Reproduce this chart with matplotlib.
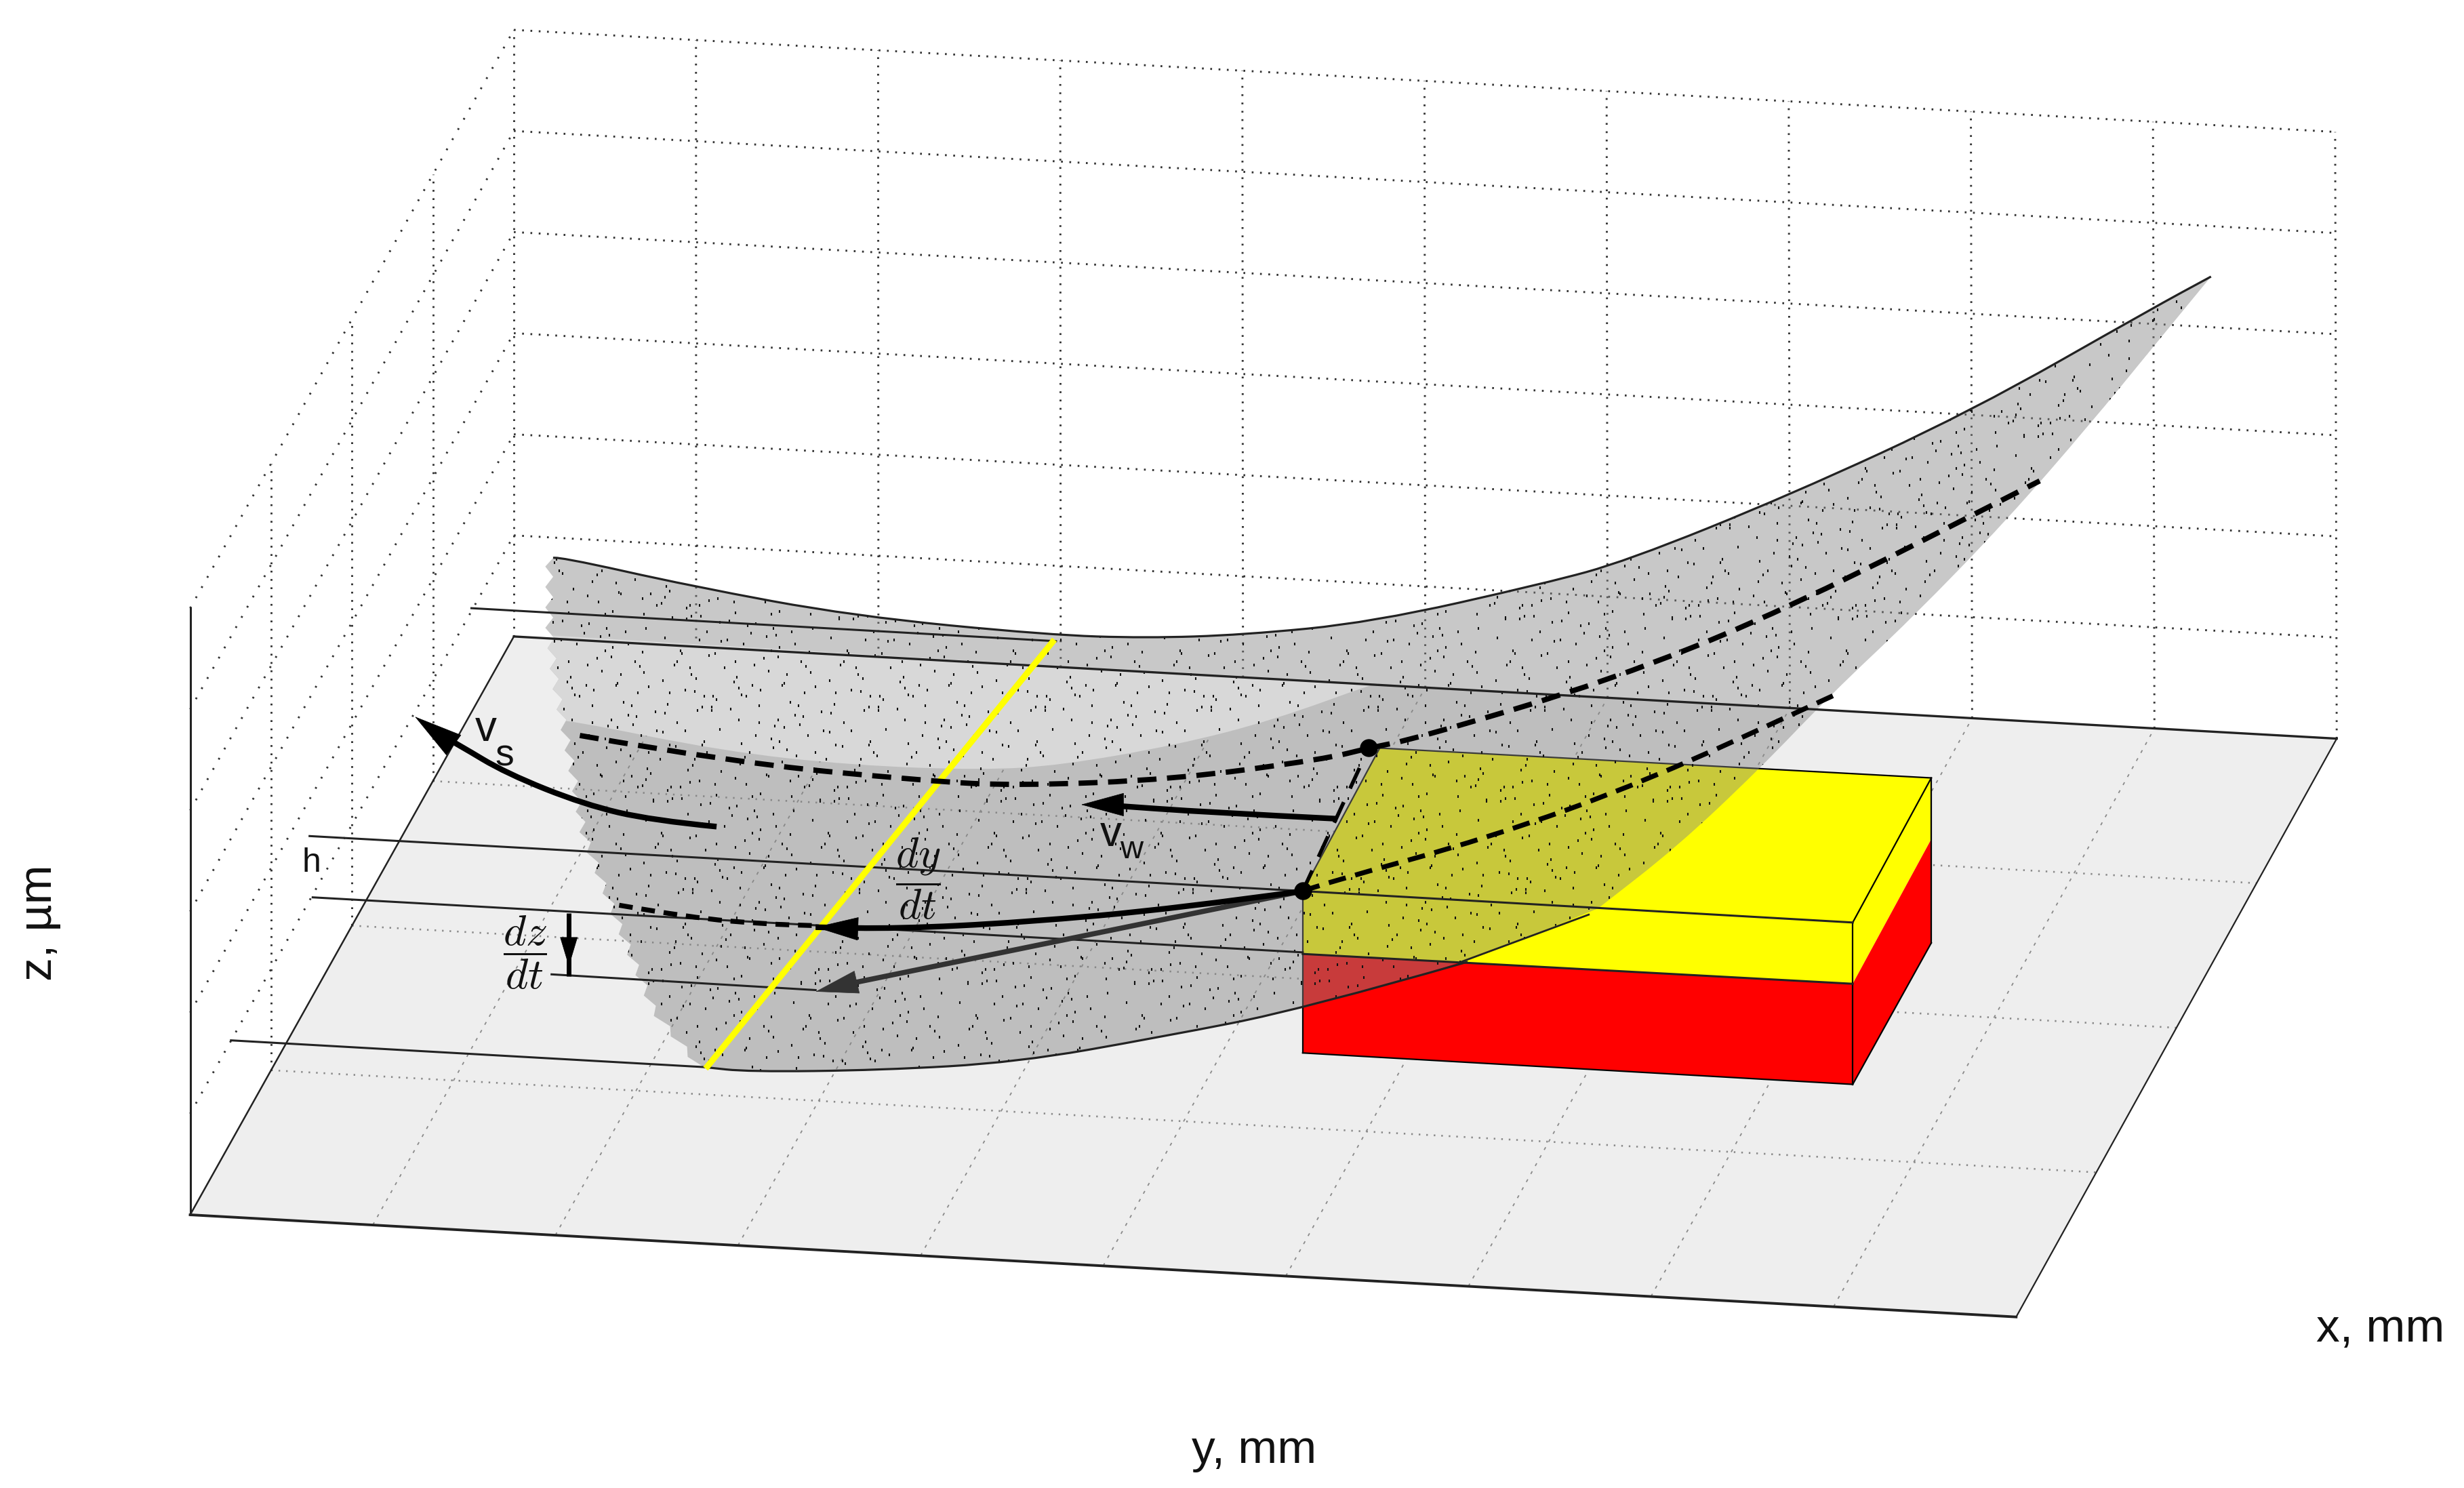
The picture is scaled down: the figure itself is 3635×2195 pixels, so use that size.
import matplotlib
matplotlib.use("Agg")
import matplotlib.pyplot as plt
from matplotlib.path import Path
from matplotlib.patches import PathPatch, Polygon
import numpy as np

plt.rcParams['font.family'] = ['Liberation Sans', 'DejaVu Sans']
plt.rcParams['mathtext.fontset'] = 'cm'

# all positions, in 1568 wide picture units
floor_x = [121, 1283, 1487, 327]
floor_y = [773, 838, 470, 405]
wall_top_left = (121, 387)
wall_top_back = (327, 19)
wall_top_right = (1486, 84)

# surface outline, split in its four edges
top_x = [352, 355, 440, 543, 667, 729, 791, 873, 984, 1035, 1139, 1254, 1370, 1407]
top_y = [355, 354, 373, 392, 404, 406, 404, 396, 371, 357, 315, 262, 196, 176]
right_x = [1407, 1370, 1330, 1277, 1217, 1166, 1119, 1067, 1017]
right_y = [176, 221, 270, 331, 393, 441, 490, 539, 578]
bottom_x = [1017, 934, 830, 738, 647, 560, 476, 448]
bottom_y = [578, 612, 642, 660, 676, 681, 682, 679]
left_x = [448, 419, 394, 374, 364, 356, 352, 352]
left_y = [679, 644, 583, 531, 476, 435, 400, 355]

# lighter patch of the surface, where it is seen against the floor
light_x = [345, 345, 361, 460, 543, 625, 675, 749, 811, 877, 877]
light_y = [404, 458, 458, 478, 487, 490, 487, 474, 458, 434, 436]

# work piece corners
box_top_x = [829, 1179, 1229, 878]
box_top_y = [567, 587, 495, 476]
box_front_up_x = [829, 1179, 1179, 829]
box_front_up_y = [567, 587, 626, 607]
box_front_low_x = [829, 1179, 1179, 829]
box_front_low_y = [607, 626, 690, 670]
box_side_up_x = [1179, 1229, 1229, 1179]
box_side_up_y = [587, 495, 534, 626]
box_side_low_x = [1179, 1229, 1229, 1179]
box_side_low_y = [626, 534, 600, 690]

# dashed and solid curves
dash1_x = [369, 465, 590, 647, 747, 843, 871, 901, 1025, 1139, 1298]
dash1_y = [468, 485, 497, 500, 496, 483, 476, 470, 433, 387, 306]
dash2_x = [829, 843, 948, 1048, 1168]
dash2_y = [567, 562, 533, 497, 442]
dash3_x = [394, 440, 487, 519]
dash3_y = [576, 584, 588, 589]
dash4_x = [829, 871]
dash4_y = [567, 476]
dy_x = [829, 750, 650, 570, 519]
dy_y = [567, 578, 587, 591, 590]
vs_x = [456, 415, 372, 322, 292, 279]
vs_y = [526, 522, 512, 492, 474, 467]
vw_x = [851, 770, 700]
vw_y = [521, 517, 512]

# thin guide lines
guide_x = [[300, 672], [197, 829], [199, 829], [351, 519], [147, 448], [829, 1179], [829, 1179]]
guide_y = [[387, 408], [532, 567], [571, 606], [620, 630], [662, 679], [567, 587], [607, 626]]

yellow_line_x = [449, 671]
yellow_line_y = [680, 407]
dots_x = [829, 871]
dots_y = [567, 476]

# one hand placed tile of the speckle on the surface
speck_x = [3, 9, 17, 22, 31, 36, 44, 49, 58, 63, 71, 78, 84, 93, 97,
           6, 14, 20, 28, 39, 47, 53, 61, 69, 76, 88, 95,
           2, 11, 25, 33, 41, 52, 56, 66, 74, 81, 90,
           8, 16, 23, 35, 45, 50, 60, 72, 79, 86, 99,
           5, 13, 27, 30, 38, 48, 55, 64, 68, 83, 92,
           19, 43, 75, 96, 34, 59]
speck_y = [14, 31, 2, 48, 25, 53, 3, 39, 11, 57, 22, 44, 10, 32, 8,
           49, 24, 37, 51, 16, 42, 18, 5, 35, 20, 57, 23,
           41, 29, 15, 58, 33, 50, 6, 27, 12, 37, 29,
           2, 47, 40, 24, 59, 46, 31, 8, 43, 18, 45,
           56, 22, 58, 10, 4, 29, 51, 47, 13, 55, 49,
           33, 15, 26, 36, 51, 44]

S = 3635 / 1568
fig = plt.figure(figsize=(36.35, 21.95), dpi=100)
ax = fig.add_axes([0, 0, 1, 1])
ax.set_xlim(0, 1568)
ax.set_ylim(2195 / S, 0)
ax.axis('off')


def curve(xs, ys):                      # smooth path with the read points as control points
    verts = [(xs[0], ys[0])]
    codes = [Path.MOVETO]
    for i in range(1, len(xs) - 1):
        verts.append((xs[i], ys[i]))
        verts.append(((xs[i] + xs[i + 1]) / 2, (ys[i] + ys[i + 1]) / 2))
        codes += [Path.CURVE3, Path.CURVE3]
    verts.append((xs[-1], ys[-1]))
    codes.append(Path.LINETO)
    return Path(verts, codes)


def stroke(xs, ys, **kw):
    ax.add_patch(PathPatch(curve(xs, ys), fill=False, capstyle='butt', **kw))


def head(tip, back, color='black', length=4.4, width=1.0, lw=0.5):
    ax.annotate('', xy=tip, xytext=back, zorder=8,
                arrowprops=dict(arrowstyle='-|>,head_length=%g,head_width=%g' % (length, width),
                                mutation_scale=10, color=color, lw=lw, shrinkA=0, shrinkB=0))


# floor
ax.add_patch(Polygon(list(zip(floor_x, floor_y)), closed=True, fc='#eeeeee', ec='none', zorder=1))

# dotted grid on the walls and the floor
dot = (0, (0.9, 3.3))
dot_wide = (0, (0.9, 5.0))
fl = np.array(list(zip(floor_x, floor_y)), float)
for t in np.linspace(0, 1, 11):
    a = fl[0] + t * (fl[1] - fl[0])
    b = fl[3] + t * (fl[2] - fl[3])
    c = np.array(wall_top_back) + t * (np.array(wall_top_right) - np.array(wall_top_back))
    if 0 < t < 1:
        ax.plot([a[0], b[0]], [a[1], b[1]], color='#8a8a8a', lw=1.3, ls=(0, (2.5, 5)), zorder=2)
    ax.plot([b[0], c[0]], [b[1], c[1]], color='#333333', lw=2.1, ls=dot, zorder=2)
for t in np.linspace(0, 1, 5):
    a = fl[0] + t * (fl[3] - fl[0])
    b = fl[1] + t * (fl[2] - fl[1])
    if 0 < t < 1:
        ax.plot([a[0], b[0]], [a[1], b[1]], color='#8a8a8a', lw=1.9, ls=dot, zorder=2)
    if t < 1:
        top = np.array(wall_top_left) + t * (np.array(wall_top_back) - np.array(wall_top_left))
        if t > 0:
            ax.plot([a[0], top[0]], [a[1], top[1]], color='#333333', lw=2.1, ls=dot, zorder=2)
for k in range(0, 7):
    dy = (floor_y[0] - wall_top_left[1]) * k / 6
    if k > 0:
        ax.plot([floor_x[0], floor_x[3]], [floor_y[0] - dy, floor_y[3] - dy], color='#333333', lw=2.1, ls=dot_wide, zorder=2)
        ax.plot([floor_x[3], floor_x[2]], [floor_y[3] - dy, floor_y[2] - dy], color='#333333', lw=2.1, ls=dot, zorder=2)

# floor edges and z axis
ax.plot([floor_x[0], floor_x[0]], [floor_y[0], wall_top_left[1]], color='#222222', lw=2.2, zorder=3)
ax.plot(floor_x[:2], floor_y[:2], color='#222222', lw=2.8, zorder=3)
ax.plot(floor_x[1:3], floor_y[1:3], color='#222222', lw=1.6, zorder=3)
ax.plot([floor_x[0], floor_x[3]], [floor_y[0], floor_y[3]], color='#222222', lw=1.8, zorder=3)
ax.plot(floor_x[2:], floor_y[2:], color='#222222', lw=2.4, zorder=6)

# work piece
for xs, ys, col in [(box_top_x, box_top_y, '#ffff00'), (box_front_up_x, box_front_up_y, '#ffff00'),
                    (box_front_low_x, box_front_low_y, '#ff0000'), (box_side_up_x, box_side_up_y, '#ffff00'),
                    (box_side_low_x, box_side_low_y, '#ff0000')]:
    ax.add_patch(Polygon(list(zip(xs, ys)), closed=True, fc=col, ec='none', zorder=4))
box_edges = [([829, 829], [567, 670]), ([829, 1179], [670, 690]), ([1179, 1179], [587, 690]),
             ([1179, 1229], [690, 600]), ([1229, 1229], [495, 600]), ([1179, 1229], [587, 495]),
             ([878, 1229], [476, 495]), ([829, 878], [567, 476])]
for xs, ys in box_edges:
    ax.plot(xs, ys, color='black', lw=1.6, zorder=4.5)

# surface, semi transparent so floor, grid and box show through
# its left side is a saw edge, as in the picture
edge = curve(top_x + right_x + bottom_x, top_y + right_y + bottom_y)
saw_y = np.arange(left_y[0], left_y[-1], -6.5)
saw_x = np.interp(saw_y, left_y[::-1], left_x[::-1]) - np.arange(len(saw_y)) % 2 * 5.0
verts = list(edge.vertices) + list(zip(saw_x, saw_y))
codes = list(edge.codes) + [Path.LINETO] * len(saw_y)
surface = PathPatch(Path(verts, codes), fc=(133 / 255, 133 / 255, 133 / 255, 0.45), ec='none', zorder=5)
ax.add_patch(surface)
light = PathPatch(curve(light_x, light_y), fc='#d8d8d8', ec='none', zorder=5.1)
ax.add_patch(light)
light.set_clip_path(surface)

# speckle, the tile repeated over the surface and cut to its shape
sx, sy = [], []
for row in range(0, 10):
    for col in range(0, 13):
        if row % 2:
            sx += [100 - x + 20 + 106 * col + 47 * row for x in speck_x]
        else:
            sx += [x + 20 + 106 * col + 47 * row for x in speck_x]
        sy += [y + 160 + 58 * row for y in speck_y]
sp, = ax.plot(sx, sy, ls='none', marker='|', ms=3.2, mew=1.5, color='#111111', zorder=5.5)
sp.set_clip_path(surface)

# surface outline
stroke(top_x, top_y, ec='#222222', lw=2.3, zorder=6)
stroke(bottom_x[1:], bottom_y[1:], ec='#222222', lw=2.3, zorder=6)
ax.plot([1011, 930], [582, 612], color='#222222', lw=2, zorder=6)

# guide lines
for xs, ys in zip(guide_x, guide_y):
    ax.plot(xs, ys, color='#222222', lw=2.2, zorder=6)

# yellow contact line
ax.plot(yellow_line_x, yellow_line_y, color='#ffff00', lw=6.5, zorder=7, solid_capstyle='butt')

# dashed paths
dash = (0, (3.6, 2.0))
stroke(dash1_x, dash1_y, ec='black', lw=5.6, ls=dash, zorder=7)
stroke(dash2_x, dash2_y, ec='black', lw=5.2, ls=dash, zorder=7)
stroke(dash3_x, dash3_y, ec='black', lw=5.2, ls=(0, (2.8, 1.8)), zorder=7)
ax.plot(dash4_x, dash4_y, color='black', lw=4.0, ls=(0, (6, 4)), zorder=7, dash_capstyle='butt')

# velocity arrows
stroke(vs_x, vs_y, ec='black', lw=6, zorder=8)
head((264, 456), (vs_x[-1], vs_y[-1]), length=5.0, width=1.3)
stroke(vw_x, vw_y, ec='black', lw=6, zorder=8)
head((688, 512), (vw_x[-1], vw_y[-1]), width=1.2)
stroke(dy_x, dy_y, ec='black', lw=6, zorder=8)
head((519, 590), (545, 591), width=1.2)
ax.plot([829, 545], [567, 625], color='#333333', lw=5.5, zorder=7.5, solid_capstyle='butt')
head((519, 631), (545, 625), color='#333333', width=1.2)
ax.plot([362, 362], [581, 621], color='black', lw=5, zorder=8, solid_capstyle='butt')
head((362, 615), (362, 597), length=3.0, width=0.9)

ax.plot(dots_x, dots_y, ls='none', marker='o', ms=19, color='black', mew=0, zorder=9)

# texts
tk = dict(color='#111111', ha='center', va='center', zorder=10)
ax.text(25, 587, 'z, µm', rotation=90, fontsize=50, **tk)
ax.text(798, 923, 'y, mm', fontsize=50, **tk)
ax.text(1515, 846, 'x, mm', fontsize=50, **tk)
ax.text(198, 549, 'h', fontsize=36, **tk)
ax.text(309, 464, 'v', fontsize=46, **tk)
ax.text(321, 481, 's', fontsize=40, **tk)
ax.text(707, 531, 'v', fontsize=46, **tk)
ax.text(720, 541, 'w', fontsize=34, **tk)
ax.text(584, 559, r'$\dfrac{dy}{dt}$', fontsize=46, **tk)
ax.text(334, 606, r'$\dfrac{dz}{dt}$', fontsize=46, **tk)

fig.savefig('out.png', dpi=100, facecolor='white')
